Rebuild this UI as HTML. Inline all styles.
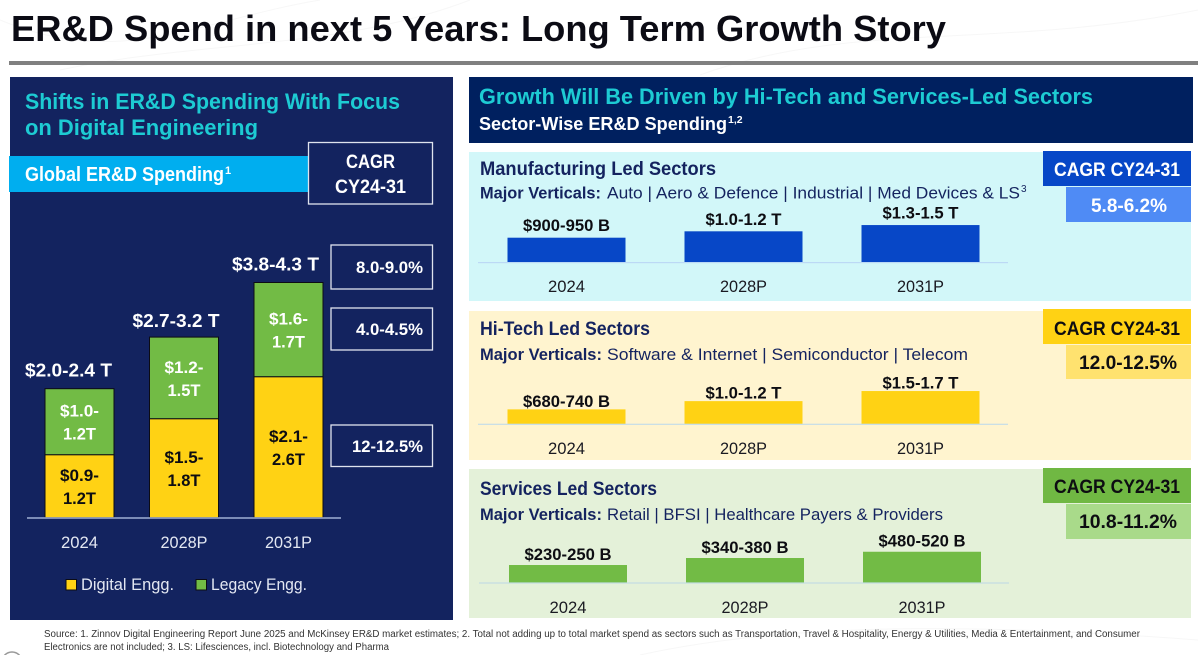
<!DOCTYPE html>
<html lang="en">
<head>
<meta charset="utf-8">
<title>ER&amp;D Spend in next 5 Years</title>
<style>
html,body{margin:0;padding:0;background:#fff;width:1198px;height:655px;overflow:hidden}
svg{display:block;font-family:"Liberation Sans",sans-serif}
.b{font-weight:700}
</style>
</head>
<body>
<svg id="slide" xmlns="http://www.w3.org/2000/svg" width="1198" height="655" viewBox="0 0 1198 655">
  <g fill="none" stroke="#f7f7f7" stroke-width="1">
    <path d="M0 20C120 70 200 20 320 0"/><path d="M60 70C200 40 340 50 470 0"/><path d="M700 75C850 20 1000 50 1198 10"/><path d="M640 655C800 620 1000 625 1198 640"/>
  </g>
  <text class="b" x="11" y="41" font-size="36.5" fill="#0b0b14" textLength="935" lengthAdjust="spacingAndGlyphs">ER&amp;D Spend in next 5 Years: Long Term Growth Story</text>
  <rect x="9" y="61" width="1189" height="4" fill="#808080"/>

  <rect x="10" y="77" width="443" height="543" fill="#13235f"/>
  <text class="b" x="25" y="109" font-size="22.5" fill="#1dcbd3" textLength="375" lengthAdjust="spacingAndGlyphs">Shifts in ER&amp;D Spending With Focus</text>
  <text class="b" x="25" y="135" font-size="22.5" fill="#1dcbd3" textLength="233" lengthAdjust="spacingAndGlyphs">on Digital Engineering</text>
  <rect x="9" y="156" width="300" height="36" fill="#00aeef"/>
  <text class="b" x="25" y="181" font-size="20" fill="#fff" textLength="199" lengthAdjust="spacingAndGlyphs">Global ER&amp;D Spending</text>
  <text class="b" x="225" y="174" font-size="11" fill="#fff">1</text>
  <rect x="308.5" y="142.5" width="124" height="61.5" fill="#13235f" stroke="#dfe3ee" stroke-width="1.3"/>
  <text class="b" x="346" y="168" font-size="19" fill="#fff" textLength="49" lengthAdjust="spacingAndGlyphs">CAGR</text>
  <text class="b" x="335" y="193" font-size="19" fill="#fff" textLength="71" lengthAdjust="spacingAndGlyphs">CY24-31</text>

  <g>
    <rect x="331" y="245" width="101.5" height="44" fill="none" stroke="#dfe3ee" stroke-width="1.3"/>
    <text class="b" x="356" y="273" font-size="16.5" fill="#fff" textLength="67" lengthAdjust="spacingAndGlyphs">8.0-9.0%</text>
    <rect x="331" y="308" width="101.5" height="42" fill="none" stroke="#dfe3ee" stroke-width="1.3"/>
    <text class="b" x="356" y="335" font-size="16.5" fill="#fff" textLength="67" lengthAdjust="spacingAndGlyphs">4.0-4.5%</text>
    <rect x="331" y="425" width="101.5" height="41.5" fill="none" stroke="#dfe3ee" stroke-width="1.3"/>
    <text class="b" x="352" y="452" font-size="16.5" fill="#fff" textLength="71" lengthAdjust="spacingAndGlyphs">12-12.5%</text>
  </g>

  <g id="global-chart"></g>

  <g>
    <rect x="66" y="579.5" width="10.5" height="10.5" fill="#ffd214" stroke="#0c0c14" stroke-width="1"/>
    <text x="81" y="590" font-size="17" fill="#e3e7f2" textLength="93" lengthAdjust="spacingAndGlyphs">Digital Engg.</text>
    <rect x="196" y="579.5" width="10.5" height="10.5" fill="#72bb45" stroke="#0c0c14" stroke-width="1"/>
    <text x="211" y="590" font-size="17" fill="#e3e7f2" textLength="96" lengthAdjust="spacingAndGlyphs">Legacy Engg.</text>
  </g>

  <rect x="469" y="77" width="724" height="66" fill="#00205f"/>
  <text class="b" x="479" y="104" font-size="22" fill="#1dcbd3" textLength="614" lengthAdjust="spacingAndGlyphs">Growth Will Be Driven by Hi-Tech and Services-Led Sectors</text>
  <text class="b" x="479" y="130" font-size="18.5" fill="#fff" textLength="248" lengthAdjust="spacingAndGlyphs">Sector-Wise ER&amp;D Spending</text>
  <text class="b" x="728" y="123" font-size="10.5" fill="#fff">1,2</text>

  <rect x="469" y="152" width="722" height="149" fill="#d2f7f9"/>
  <rect x="469" y="311" width="722" height="149" fill="#fff4cf"/>
  <rect x="469" y="469" width="722" height="149" fill="#e4f1d9"/>

  <text class="b" x="480" y="175" font-size="19" fill="#14235f" textLength="236" lengthAdjust="spacingAndGlyphs">Manufacturing Led Sectors</text>
  <text class="b" x="480" y="198.5" font-size="16.5" fill="#14235f" textLength="121" lengthAdjust="spacingAndGlyphs">Major Verticals:</text>
  <text x="607" y="198.5" font-size="16.5" fill="#14235f" textLength="413" lengthAdjust="spacingAndGlyphs">Auto | Aero &amp; Defence | Industrial | Med Devices &amp; LS</text>
  <text x="1021" y="192" font-size="10" fill="#14235f">3</text>

  <text class="b" x="480" y="335" font-size="19" fill="#14235f" textLength="170" lengthAdjust="spacingAndGlyphs">Hi-Tech Led Sectors</text>
  <text class="b" x="480" y="360" font-size="16.5" fill="#14235f" textLength="122" lengthAdjust="spacingAndGlyphs">Major Verticals:</text>
  <text x="607" y="360" font-size="16.5" fill="#14235f" textLength="361" lengthAdjust="spacingAndGlyphs">Software &amp; Internet | Semiconductor | Telecom</text>

  <text class="b" x="480" y="495" font-size="19" fill="#14235f" textLength="177" lengthAdjust="spacingAndGlyphs">Services Led Sectors</text>
  <text class="b" x="480" y="520" font-size="16.5" fill="#14235f" textLength="122" lengthAdjust="spacingAndGlyphs">Major Verticals:</text>
  <text x="607" y="520" font-size="16.5" fill="#14235f" textLength="336" lengthAdjust="spacingAndGlyphs">Retail | BFSI | Healthcare Payers &amp; Providers</text>

  <rect x="1043" y="151" width="148" height="35" fill="#0747c7"/>
  <text class="b" x="1054" y="176" font-size="19" fill="#fff" textLength="126" lengthAdjust="spacingAndGlyphs">CAGR CY24-31</text>
  <rect x="1066" y="187" width="125" height="35" fill="#4f8bf5"/>
  <text class="b" x="1091" y="212" font-size="19" fill="#fff" textLength="76" lengthAdjust="spacingAndGlyphs">5.8-6.2%</text>

  <rect x="1043" y="309" width="148" height="35" fill="#ffd214"/>
  <text class="b" x="1054" y="335" font-size="19" fill="#0d0d12" textLength="126" lengthAdjust="spacingAndGlyphs">CAGR CY24-31</text>
  <rect x="1066" y="345" width="125" height="34" fill="#ffe26f"/>
  <text class="b" x="1079" y="369" font-size="19" fill="#0d0d12" textLength="98" lengthAdjust="spacingAndGlyphs">12.0-12.5%</text>

  <rect x="1043" y="468" width="148" height="35" fill="#70b843"/>
  <text class="b" x="1054" y="493" font-size="19" fill="#0d0d12" textLength="126" lengthAdjust="spacingAndGlyphs">CAGR CY24-31</text>
  <rect x="1066" y="504" width="125" height="35" fill="#a9da8a"/>
  <text class="b" x="1079" y="528" font-size="19" fill="#0d0d12" textLength="98" lengthAdjust="spacingAndGlyphs">10.8-11.2%</text>

  <g id="manufacturing-chart"></g>
  <g id="hi-tech-chart"></g>
  <g id="services-chart"></g>

  <text x="44" y="637" font-size="10" fill="#333" textLength="1096" lengthAdjust="spacingAndGlyphs">Source: 1. Zinnov Digital Engineering Report June 2025 and McKinsey ER&amp;D market estimates; 2. Total not adding up to total market spend as sectors such as Transportation,  Travel &amp; Hospitality, Energy &amp; Utilities, Media &amp; Entertainment, and Consumer</text>
  <text x="44" y="650" font-size="10" fill="#333" textLength="345" lengthAdjust="spacingAndGlyphs">Electronics are not included; 3. LS: Lifesciences, incl. Biotechnology and Pharma</text>
  <circle cx="12" cy="662" r="10" fill="none" stroke="#999" stroke-width="1.5"/>
</svg>
<script>
var years = ['2024', '2028P', '2031P'];
var digitalValues = [1.05, 1.65, 2.35];
var legacyValues = [1.1, 1.36, 1.57];
var totalLabels = ['$2.0-2.4 T', '$2.7-3.2 T', '$3.8-4.3 T'];
var digitalLabels = [['$0.9-', '1.2T'], ['$1.5-', '1.8T'], ['$2.1-', '2.6T']];
var legacyLabels = [['$1.0-', '1.2T'], ['$1.2-', '1.5T'], ['$1.6-', '1.7T']];
var manufacturingValues = [925, 1165, 1400];
var manufacturingLabels = ['$900-950 B', '$1.0-1.2 T', '$1.3-1.5 T'];
var hiTechValues = [710, 1110, 1600];
var hiTechLabels = ['$680-740 B', '$1.0-1.2 T', '$1.5-1.7 T'];
var servicesValues = [240, 335, 420];
var servicesLabels = ['$230-250 B', '$340-380 B', '$480-520 B'];

var NS = 'http://www.w3.org/2000/svg';

function makeRect(parent, x, y, w, h, fill) {
  var r = document.createElementNS(NS, 'rect');
  r.setAttribute('x', x);
  r.setAttribute('y', y);
  r.setAttribute('width', w);
  r.setAttribute('height', h);
  r.setAttribute('fill', fill);
  parent.appendChild(r);
  return r;
}

function makeText(parent, str, cx, y, size, fill, bold, width) {
  var t = document.createElementNS(NS, 'text');
  t.textContent = str;
  t.setAttribute('x', cx - width / 2);
  t.setAttribute('y', y);
  t.setAttribute('font-size', size);
  t.setAttribute('fill', fill);
  if (bold) t.setAttribute('font-weight', '700');
  t.setAttribute('textLength', width);
  t.setAttribute('lengthAdjust', 'spacingAndGlyphs');
  parent.appendChild(t);
  return t;
}

function yearWidth(s) { return s.length > 4 ? 47 : 37; }

/* Global stacked chart */
(function () {
  var g = document.getElementById('global-chart');
  var base = 517.7, pxPerUnit = 60, barW = 69;
  function xCenter(i) { return 79.5 + 104.5 * i; }
  function yVal(v) { return base - v * pxPerUnit; }
  function totalLabelX(i) { return xCenter(i) - (i === 1 ? 8 : (i === 2 ? 13 : 11)); }

  years.forEach(function (yr, i) {
    var cx = xCenter(i);
    var yDigital = yVal(digitalValues[i]);
    var yTotal = yVal(digitalValues[i] + legacyValues[i]);

    var d = makeRect(g, cx - barW / 2, yDigital, barW, base - yDigital, '#ffd214');
    d.setAttribute('stroke', '#0c0c14');
    d.setAttribute('stroke-width', '1');
    
    

    var l = makeRect(g, cx - barW / 2, yTotal, barW, yDigital - yTotal, '#72bb45');
    l.setAttribute('stroke', '#0c0c14');
    l.setAttribute('stroke-width', '1');
    
    

    var midD = (base + yDigital) / 2;
    var midL = (yDigital + yTotal) / 2;

    var d1 = makeText(g, digitalLabels[i][0], cx, midD - 5, 16.5, '#0d0d12', true, 39);
    
    
    var d2 = makeText(g, digitalLabels[i][1], cx, midD + 18, 16.5, '#0d0d12', true, 33);
    
    
    var l1 = makeText(g, legacyLabels[i][0], cx, midL - 5, 16.5, '#fff', true, 39);
    
    
    var l2 = makeText(g, legacyLabels[i][1], cx, midL + 18, 16.5, '#fff', true, 33);
    
    

    var tot = makeText(g, totalLabels[i], totalLabelX(i), yTotal - (i === 1 ? 10 : 12), 18.5, '#fff', true, 87);
    
    

    var yl = makeText(g, yr, cx, 548, 16.5, '#e3e7f2', false, yearWidth(yr));
    
    
  });

  var axis = makeRect(g, 27, 517.3, 314, 1.4, '#a9b8dc');
  
  
})();

/* Sector bar charts */
function drawSector(id, values, labels, fill, base, pxPerUnit, x0, axisX, axisColor, yearY, labelGap) {
  var g = document.getElementById(id);
  var barW = 118;
  function xCenter(i) { return x0 + 177 * i; }
  function yVal(v) { return base - v * pxPerUnit; }

  values.forEach(function (v, i) {
    var cx = xCenter(i), top = yVal(v);

    var bar = makeRect(g, cx - barW / 2, top, barW, base - top, fill);
    
    

    var lbl = makeText(g, labels[i], cx, top - labelGap, 17, '#0d0d12', true, labels[i].indexOf('B') > 0 ? 87 : 76);
    
    

    var yl = makeText(g, years[i], cx, yearY, 16.5, '#1a1a22', false, yearWidth(years[i]));
    
    
  });

  var axis = makeRect(g, axisX, base - 0.3, 530, 1.2, axisColor);
  
  
}

drawSector('manufacturing-chart', manufacturingValues, manufacturingLabels, '#0747c7', 262.3, 0.0266, 566.5, 478, '#bcd9f5', 292, 6.5);
drawSector('hi-tech-chart', hiTechValues, hiTechLabels, '#ffd214', 424, 0.0206, 566.5, 478, '#c5dde8', 454, 2.5);
drawSector('services-chart', servicesValues, servicesLabels, '#72bb45', 582.7, 0.0737, 568, 479, '#c3dde3', 613, 5);
</script>
</body>
</html>
